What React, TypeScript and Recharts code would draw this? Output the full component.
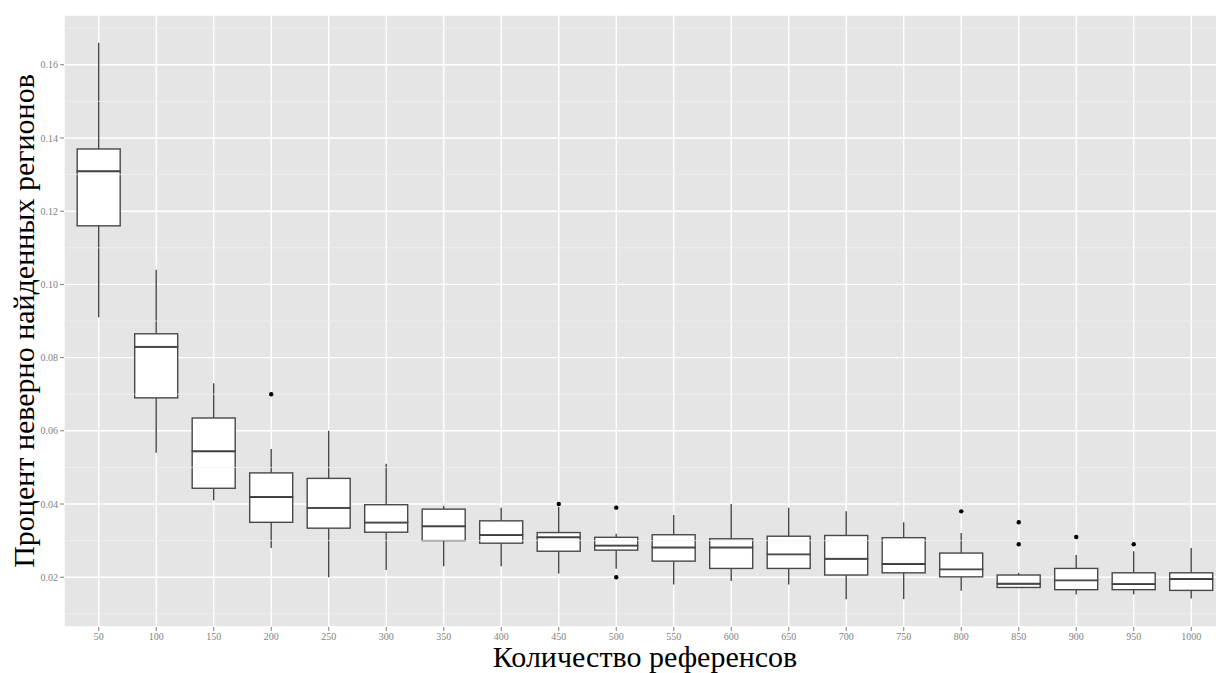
import React from 'react';
import {
  ComposedChart,
  Bar,
  Line,
  XAxis,
  YAxis,
  CartesianGrid,
  ReferenceLine,
} from 'recharts';

// number of references on the x axis
const refCounts = ['50', '100', '150', '200', '250', '300', '350', '400', '450', '500',
  '550', '600', '650', '700', '750', '800', '850', '900', '950', '1000'];

// box stats
const whiskerLow = [0.091, 0.054, 0.041, 0.028, 0.020, 0.022, 0.023, 0.023, 0.021, 0.0223,
  0.018, 0.019, 0.018, 0.014, 0.014, 0.0163, 0.0172, 0.0153, 0.0153, 0.0142];
const lowerQuartile = [0.116, 0.069, 0.0443, 0.035, 0.0334, 0.0323, 0.030, 0.0293, 0.0271, 0.0274,
  0.0244, 0.0224, 0.0224, 0.0206, 0.0212, 0.0201, 0.0172, 0.0166, 0.0166, 0.0164];
const medians = [0.131, 0.083, 0.0545, 0.042, 0.039, 0.035, 0.034, 0.0316, 0.031, 0.0287,
  0.0282, 0.0282, 0.0263, 0.0251, 0.0237, 0.0222, 0.0183, 0.0192, 0.0182, 0.0196];
const upperQuartile = [0.137, 0.0865, 0.0635, 0.0485, 0.047, 0.0398, 0.0386, 0.0354, 0.0322, 0.0309,
  0.0316, 0.0305, 0.0312, 0.0314, 0.0308, 0.0266, 0.0206, 0.0224, 0.0212, 0.0212];
const whiskerHigh = [0.166, 0.104, 0.073, 0.055, 0.060, 0.051, 0.0395, 0.039, 0.0392, 0.0319,
  0.037, 0.040, 0.039, 0.038, 0.035, 0.0321, 0.0212, 0.0261, 0.0271, 0.028];
const outliersA = [null, null, null, 0.070, null, null, null, null, 0.040, 0.039,
  null, null, null, null, null, 0.038, 0.035, 0.031, 0.029, null];
const outliersB = [null, null, null, null, null, null, null, null, null, 0.020,
  null, null, null, null, null, null, 0.029, null, null, null];

const yTicks = [0.02, 0.04, 0.06, 0.08, 0.10, 0.12, 0.14, 0.16];
const yMinor = [0.01, 0.03, 0.05, 0.07, 0.09, 0.11, 0.13, 0.15, 0.17];

// stacked segments so every piece goes through the y scale
const data = refCounts.map((name, i) => ({
  name,
  base: whiskerLow[i],
  lowWhisker: lowerQuartile[i] - whiskerLow[i],
  lowBox: medians[i] - lowerQuartile[i],
  highBox: upperQuartile[i] - medians[i],
  highWhisker: whiskerHigh[i] - upperQuartile[i],
  outA: outliersA[i],
  outB: outliersB[i],
}));

const BOX_STROKE = '#484848';
const serif = '"Liberation Serif", "DejaVu Serif", serif';

const Hidden = () => null;

const Whisker = (props: any) => {
  const { x, y, width, height } = props;
  if (height == null || height <= 0) return null;
  const cx = x + width / 2;
  return <line x1={cx} x2={cx} y1={y} y2={y + height} stroke={BOX_STROKE} strokeWidth={1.4} />;
};

const LowerBox = (props: any) => {
  const { x, y, width, height } = props;
  return (
    <g>
      <rect x={x} y={y} width={width} height={Math.max(height, 0)} fill="#fff" stroke={BOX_STROKE} strokeWidth={1.4} />
      <line x1={x} x2={x + width} y1={y} y2={y} stroke="#333" strokeWidth={2.4} />
    </g>
  );
};

const UpperBox = (props: any) => {
  const { x, y, width, height } = props;
  return (
    <rect x={x} y={y} width={width} height={Math.max(height, 0)} fill="#fff" stroke={BOX_STROKE} strokeWidth={1.4} />
  );
};

const renderYTitle = (props: any) => {
  const vb = props.viewBox;
  const x = vb.x + 34;
  const y = vb.y + vb.height / 2;
  return (
    <text x={x} y={y} transform={`rotate(-90, ${x}, ${y})`} textAnchor="middle"
      fontFamily={serif} fontSize={30} fill="#000">
      Процент неверно найденных регионов
    </text>
  );
};

const renderXTitle = (props: any) => {
  const vb = props.viewBox;
  return (
    <text x={vb.x + vb.width / 2} y={vb.y + 40} textAnchor="middle"
      fontFamily={serif} fontSize={30} fill="#000">
      Количество референсов
    </text>
  );
};

export default function App() {
  return (
    <div style={{ position: 'absolute', left: 0, top: 0, width: 1216, height: 673, overflow: 'hidden', background: '#fff' }}>
      <ComposedChart
        width={1226}
        height={673}
        data={data}
        margin={{ top: 15, right: 0, left: 0, bottom: 0 }}
        barCategoryGap="12.5%"
      >
        <CartesianGrid fill="#E5E5E5" stroke="#fff" strokeWidth={1.4} />
        {yMinor.map((v) => (
          <ReferenceLine key={v} y={v} stroke="#F2F2F2" strokeWidth={0.7} />
        ))}
        <XAxis
          dataKey="name"
          height={46}
          padding={{ left: 6, right: 6 }}
          axisLine={false}
          tickSize={4}
          tickMargin={2}
          tickLine={{ stroke: '#7f7f7f' }}
          tick={{ fontSize: 10, fill: '#7f7f7f', fontFamily: serif }}
          interval={0}
          label={renderXTitle}
        />
        <YAxis
          width={64}
          domain={[0.0064, 0.1736]}
          allowDataOverflow
          ticks={yTicks}
          tickFormatter={(v: number) => v.toFixed(2)}
          axisLine={false}
          tickSize={4}
          tickMargin={2}
          tickLine={{ stroke: '#7f7f7f' }}
          tick={{ fontSize: 10, fill: '#7f7f7f', fontFamily: serif }}
          label={renderYTitle}
        />
        <Bar dataKey="base" stackId="box" shape={<Hidden />} isAnimationActive={false} />
        <Bar dataKey="lowWhisker" stackId="box" shape={<Whisker />} isAnimationActive={false} />
        <Bar dataKey="lowBox" stackId="box" shape={<LowerBox />} isAnimationActive={false} />
        <Bar dataKey="highBox" stackId="box" shape={<UpperBox />} isAnimationActive={false} />
        <Bar dataKey="highWhisker" stackId="box" shape={<Whisker />} isAnimationActive={false} />
        <Line dataKey="outA" stroke="none" dot={{ r: 2.2, fill: '#000', stroke: 'none' }} activeDot={false} isAnimationActive={false} connectNulls={false} />
        <Line dataKey="outB" stroke="none" dot={{ r: 2.2, fill: '#000', stroke: 'none' }} activeDot={false} isAnimationActive={false} connectNulls={false} />
      </ComposedChart>
    </div>
  );
}
